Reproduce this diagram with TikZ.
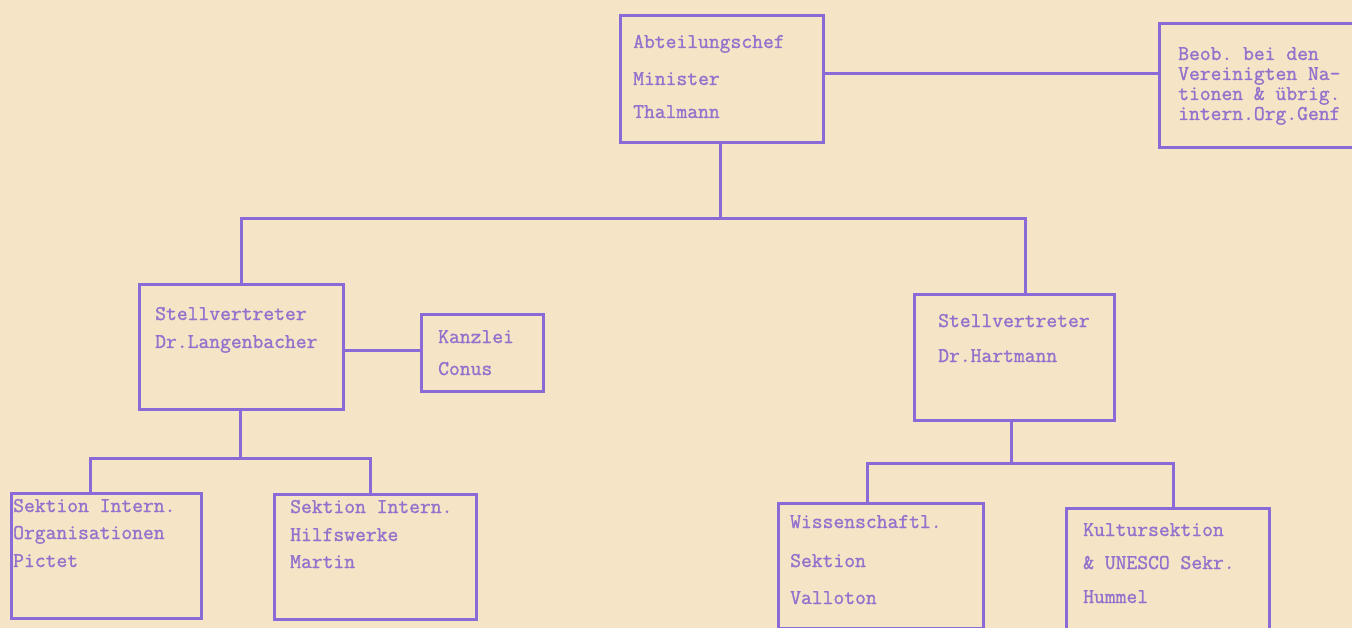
\documentclass[tikz,border=0pt]{standalone}
\usepackage{fontspec}
\setmonofont{Latin Modern Mono}[FakeBold=1.2]
\definecolor{paper}{HTML}{F6E4C6}
\definecolor{ink}{HTML}{8A6AD6}
\definecolor{typeink}{HTML}{9272CC}
\tikzset{
  box/.style={draw=ink, line width=3pt, inner sep=0pt, anchor=north west},
  link/.style={draw=ink, line width=3pt, line cap=rect},
  txt/.style={anchor=base west, inner sep=0pt, text=typeink,
    font=\ttfamily\fontsize{21}{22}\selectfont},
}
\begin{document}
\begin{tikzpicture}[x=1pt,y=-1pt]
\useasboundingbox[fill=paper] (0,0) rectangle (1352,628);

% boxes
\node[box, minimum width=203pt, minimum height=127pt] (A) at (619,14) {};
\node[box, minimum width=222pt, minimum height=124pt] (B) at (1158,22) {};
\node[box, minimum width=204pt, minimum height=125pt] (L) at (138,283) {};
\node[box, minimum width=122pt, minimum height=77pt] (K) at (420,313) {};
\node[box, minimum width=200pt, minimum height=126pt] (R) at (913,293) {};
\node[box, minimum width=190pt, minimum height=125pt] (S1) at (10,492) {};
\node[box, minimum width=202pt, minimum height=125pt] (S2) at (273,493) {};
\node[box, minimum width=205pt, minimum height=125pt] (W) at (777,502) {};
\node[box, minimum width=203pt, minimum height=153pt] (KU) at (1065,507) {};

% texts
\node[txt] (a1) at (633,48) {Abteilungschef};
\node[txt] (a2) at (633,85) {Minister};
\node[txt] (a3) at (633,118) {Thalmann};

\node[txt] (b1) at (1178,60) {Beob. bei den};
\node[txt] (b2) at (1178,80) {Vereinigten Na-};
\node[txt] (b3) at (1178,100) {tionen \& übrig.};
\node[txt] (b4) at (1178,120) {intern.Org.Genf};

\node[txt] (l1) at (155,320) {Stellvertreter};
\node[txt] (l2) at (155,348) {Dr.Langenbacher};

\node[txt] (k1) at (438,343) {Kanzlei};
\node[txt] (k2) at (438,375) {Conus};

\node[txt] (r1) at (938,327) {Stellvertreter};
\node[txt] (r2) at (938,362) {Dr.Hartmann};

\node[txt] (s11) at (13,512) {Sektion Intern.};
\node[txt] (s12) at (13,539) {Organisationen};
\node[txt] (s13) at (13,567) {Pictet};

\node[txt] (s21) at (290,513) {Sektion Intern.};
\node[txt] (s22) at (290,541) {Hilfswerke};
\node[txt] (s23) at (290,568) {Martin};

\node[txt] (w1) at (790,528) {Wissenschaftl.};
\node[txt] (w2) at (790,567) {Sektion};
\node[txt] (w3) at (790,604) {Valloton};

\node[txt] (u1) at (1083,536) {Kultursektion};
\node[txt] (u2) at (1083,569) {\& UNESCO Sekr.};
\node[txt] (u3) at (1083,603) {Hummel};

% helper coordinates
\coordinate (yAB) at (0,74);
\coordinate (yLK) at (0,350);
\coordinate (busA) at (720,219);
\coordinate (xL) at (241,0);
\coordinate (xR) at (1025,0);
\coordinate (busL) at (240,458);
\coordinate (xS1) at (90,0);
\coordinate (xS2) at (370,0);
\coordinate (busR) at (1011,463);
\coordinate (xW) at (867,0);
\coordinate (xKU) at (1173,0);

% connectors
\draw[link] (A.east |- yAB) -- (B.west |- yAB);
\draw[link] (A.south -| busA) -- (busA);
\draw[link] (L.north -| xL) |- (busA) -| (R.north -| xR);
\draw[link] (L.east |- yLK) -- (K.west |- yLK);
\draw[link] (L.south -| busL) -- (busL);
\draw[link] (S1.north -| xS1) |- (busL) -| (S2.north -| xS2);
\draw[link] (R.south -| busR) -- (busR);
\draw[link] (W.north -| xW) |- (busR) -| (KU.north -| xKU);
\end{tikzpicture}
\end{document}
